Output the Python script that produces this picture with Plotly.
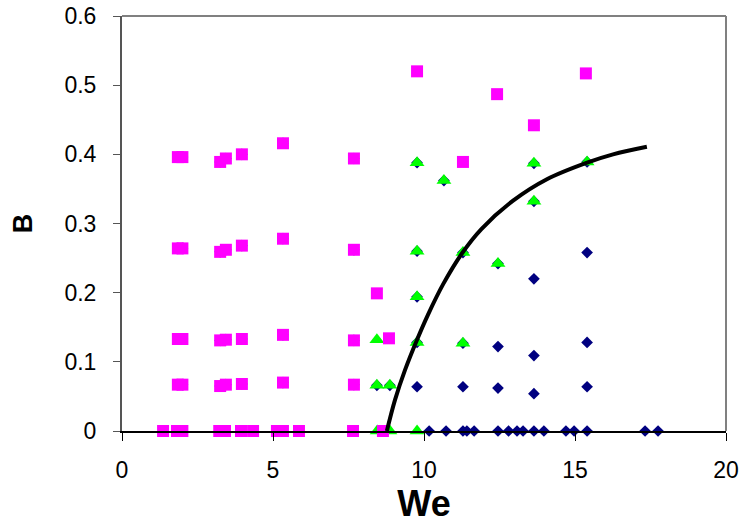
import plotly.graph_objects as go

# ---- data ----
# navy diamonds (all measured points)
dia_we = [1.85, 2.0, 3.25, 3.44, 3.97, 5.33, 7.68,
          1.85, 2.0, 3.25, 3.44, 3.97, 5.33, 7.68,
          1.85, 2.0, 3.25, 3.44, 3.97, 5.33, 7.68,
          1.85, 2.0, 3.25, 3.44, 3.97, 5.33, 7.68,
          9.77, 10.66, 13.64, 13.64, 15.4, 9.77, 11.29, 12.45, 9.77,
          9.77, 11.29, 8.44, 8.87,
          13.64, 15.4, 12.45, 13.64, 15.4, 9.77, 11.29, 12.45, 13.64, 15.4,
          10.17, 10.73, 11.29, 11.42, 11.66, 12.45, 12.8, 13.08, 13.28,
          13.64, 13.97, 14.7, 14.97, 15.4, 17.32, 17.75]
dia_b = [0.396, 0.396, 0.389, 0.394, 0.40, 0.416, 0.394,
         0.264, 0.264, 0.259, 0.262, 0.268, 0.278, 0.262,
         0.133, 0.133, 0.131, 0.132, 0.133, 0.139, 0.131,
         0.067, 0.067, 0.065, 0.067, 0.068, 0.070, 0.067,
         0.388, 0.362, 0.387, 0.332, 0.389, 0.26, 0.258, 0.242, 0.194,
         0.128, 0.127, 0.066, 0.066,
         0.22, 0.258, 0.122, 0.109, 0.128, 0.064, 0.064, 0.062, 0.054, 0.064,
         0, 0, 0, 0, 0, 0, 0, 0, 0,
         0, 0, 0, 0, 0, 0, 0]

# green triangles
tri_we = [9.77, 10.66, 13.64, 13.64, 15.4,
          9.77, 11.29, 12.45, 9.77,
          8.44, 9.77, 11.29,
          8.44, 8.87,
          8.45, 8.87, 9.77]
tri_b = [0.388, 0.362, 0.387, 0.332, 0.389,
         0.26, 0.258, 0.242, 0.194,
         0.132, 0.128, 0.127,
         0.066, 0.066,
         0, 0, 0]

# magenta squares
sq_we = [1.85, 2.0, 3.25, 3.44, 3.97, 5.33, 7.68,
         1.85, 2.0, 3.25, 3.44, 3.97, 5.33, 7.68,
         1.85, 2.0, 3.25, 3.44, 3.97, 5.33, 7.68,
         1.85, 2.0, 3.25, 3.44, 3.97, 5.33, 7.68,
         1.36, 1.82, 2.0, 3.22, 3.41, 3.94, 4.34, 5.13, 5.33, 5.86, 7.65, 8.64,
         9.77, 11.29, 12.42, 13.64, 15.36, 8.44, 8.84]
sq_b = [0.396, 0.396, 0.389, 0.394, 0.40, 0.416, 0.394,
        0.264, 0.264, 0.259, 0.262, 0.268, 0.278, 0.262,
        0.133, 0.133, 0.131, 0.132, 0.133, 0.139, 0.131,
        0.067, 0.067, 0.065, 0.067, 0.068, 0.070, 0.067,
        0, 0, 0, 0, 0, 0, 0, 0, 0, 0, 0, 0,
        0.52, 0.389, 0.487, 0.442, 0.517, 0.199, 0.134]

# fitted boundary curve
curve_we = [8.77, 9.04, 9.37, 9.77, 10.13, 10.63, 11.26, 11.9, 12.95, 14.07, 15.4, 16.26, 17.38]
curve_b = [0.0, 0.045, 0.088, 0.132, 0.168, 0.212, 0.257, 0.292, 0.333, 0.364, 0.388, 0.40, 0.411]

x_ticks = [0, 5, 10, 15, 20]
y_ticks = [0, 0.1, 0.2, 0.3, 0.4, 0.5, 0.6]
y_ticktext = ["0", "0.1", "0.2", "0.3", "0.4", "0.5", "0.6"]

FONT = "Liberation Sans, Arial, sans-serif"

fig = go.Figure()
fig.add_trace(go.Scatter(x=dia_we, y=dia_b, mode="markers", cliponaxis=False,
                         marker=dict(symbol="diamond", size=9, color="#000080"),
                         showlegend=False))
fig.add_trace(go.Scatter(x=tri_we, y=tri_b, mode="markers", cliponaxis=False,
                         marker=dict(symbol="triangle-up", size=13, color="#00FF00"),
                         showlegend=False))
fig.add_trace(go.Scatter(x=sq_we, y=sq_b, mode="markers", cliponaxis=False,
                         marker=dict(symbol="square", size=12, color="#FF00FF"),
                         showlegend=False))
fig.add_trace(go.Scatter(x=curve_we, y=curve_b, mode="lines",
                         line=dict(color="black", width=4, shape="spline", smoothing=1),
                         showlegend=False))

fig.update_layout(
    width=743, height=525,
    margin=dict(l=122, r=17, t=16, b=94),
    paper_bgcolor="white", plot_bgcolor="white",
    font=dict(family=FONT, color="black"),
    xaxis=dict(range=[0, 20], tickvals=x_ticks, showgrid=False, zeroline=False,
               automargin=False,
               showline=True, linecolor="black", linewidth=1.5,
               ticks="outside", ticklen=8, tickcolor="black", tickwidth=1,
               tickfont=dict(size=23), ticklabelstandoff=10,
               title=dict(text="<b>We</b>", font=dict(size=36), standoff=4)),
    yaxis=dict(range=[0, 0.6], tickvals=y_ticks, ticktext=y_ticktext, showgrid=False,
               automargin=False,
               zeroline=False, showline=True, linecolor="#555555", linewidth=2,
               ticks="outside", ticklen=7, tickcolor="#555555", tickwidth=1,
               tickfont=dict(size=23), ticklabelstandoff=12,
               title=dict(text="<b>B</b>", font=dict(size=27), standoff=24)),
    shapes=[
        dict(type="line", xref="paper", yref="paper", x0=0, x1=1, y0=1, y1=1,
             line=dict(color="#808080", width=2)),
        dict(type="line", xref="paper", yref="paper", x0=1, x1=1, y0=0, y1=1,
             line=dict(color="#808080", width=2)),
    ],
)

fig.write_html("out.html")
